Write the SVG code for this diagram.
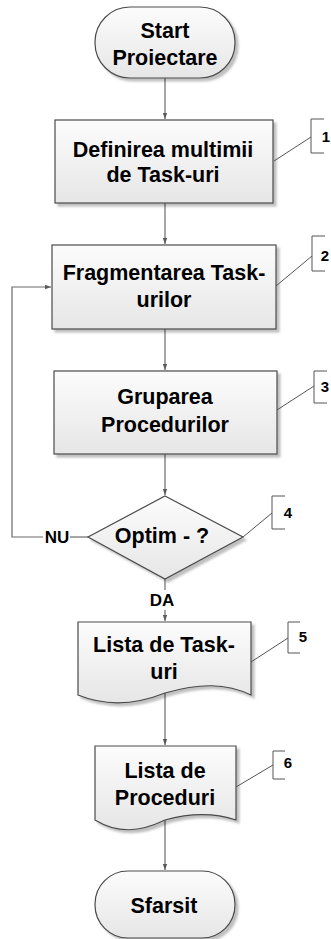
<svg xmlns="http://www.w3.org/2000/svg" width="331" height="939" viewBox="0 0 331 939">
  <defs>
    <linearGradient id="fillGrad" x1="0" y1="0" x2="0" y2="1">
      <stop offset="0" stop-color="#fcfcfc"/>
      <stop offset="1" stop-color="#e6e6e6"/>
    </linearGradient>
    <filter id="shadow" x="-10%" y="-10%" width="130%" height="130%">
      <feGaussianBlur in="SourceAlpha" stdDeviation="1.2"/>
      <feOffset dx="3" dy="3" result="off"/>
      <feFlood flood-color="#000" flood-opacity="0.25"/>
      <feComposite in2="off" operator="in"/>
      <feMerge>
        <feMergeNode/>
        <feMergeNode in="SourceGraphic"/>
      </feMerge>
    </filter>
    <marker id="arrow" viewBox="0 0 6 6" refX="6" refY="3" markerWidth="6" markerHeight="6" markerUnits="userSpaceOnUse" orient="auto">
      <path d="M0,0.8 L6,3 L0,5.2 Z" fill="#5a5a5a"/>
    </marker>
  </defs>
  <style>
    .shape { fill: url(#fillGrad); stroke: #4a4a4a; stroke-width: 1.2; filter: url(#shadow); }
    .label { font-family: "Liberation Sans", Arial, sans-serif; font-weight: bold; font-size: 21.5px; fill: #000; text-anchor: middle; }
    .small { font-family: "Liberation Sans", Arial, sans-serif; font-weight: bold; font-size: 17px; fill: #000; text-anchor: middle; }
    .num { font-family: "Liberation Sans", Arial, sans-serif; font-weight: bold; font-size: 15px; fill: #000; text-anchor: middle; }
    .conn { fill: none; stroke: #6a6a6a; stroke-width: 1.2; }
    .call { fill: none; stroke: #555; stroke-width: 1; }
  </style>

  <!-- connectors -->
  <g id="connectors">
    <path class="conn" d="M165,78 V119" marker-end="url(#arrow)"/>
    <path class="conn" d="M165,203 V244" marker-end="url(#arrow)"/>
    <path class="conn" d="M165,329 V370" marker-end="url(#arrow)"/>
    <path class="conn" d="M165,454 V495" marker-end="url(#arrow)"/>
    <path class="conn" d="M88,537 H70"/>
    <path class="conn" d="M43,537 H12 V287 H51" marker-end="url(#arrow)"/>
    <path class="conn" d="M165,579 V590"/>
    <path class="conn" d="M165,610 V621" marker-end="url(#arrow)"/>
    <path class="conn" d="M165,693 V745" marker-end="url(#arrow)"/>
    <path class="conn" d="M165,820 V870" marker-end="url(#arrow)"/>
    <text class="small" x="57" y="543">NU</text>
    <text class="small" x="162" y="606">DA</text>
  </g>

  <!-- start terminal -->
  <g id="start">
    <rect class="shape" x="95" y="7" width="140" height="71" rx="35" ry="35"/>
    <text class="label" x="165" y="38">Start</text>
    <text class="label" x="165" y="65">Proiectare</text>
  </g>

  <!-- process steps -->
  <g id="step1">
    <rect class="shape" x="55" y="120" width="218" height="83"/>
    <text class="label" x="163" y="157">Definirea multimii</text>
    <text class="label" x="163" y="182">de Task-uri</text>
  </g>

  <g id="step2">
    <rect class="shape" x="52" y="245" width="224" height="84"/>
    <text class="label" x="164" y="280">Fragmentarea Task-</text>
    <text class="label" x="164" y="307">urilor</text>
  </g>

  <g id="step3">
    <rect class="shape" x="54" y="371" width="223" height="83"/>
    <text class="label" x="165" y="404">Gruparea</text>
    <text class="label" x="165" y="432">Procedurilor</text>
  </g>

  <!-- decision -->
  <g id="decision">
    <path class="shape" d="M165,496 L243,537 L165,579 L88,537 Z"/>
    <text class="label" x="162" y="543">Optim - ?</text>
  </g>

  <!-- documents -->
  <g id="doc1">
    <path class="shape" d="M78,622 H251 V695 C226,683 200,683 165,693 C135,705 105,706 78,695 Z"/>
    <text class="label" x="164" y="652">Lista de Task-</text>
    <text class="label" x="164" y="679">uri</text>
  </g>

  <g id="doc2">
    <path class="shape" d="M95,746 H236 V820 C212,812 190,813 165,820 C140,832 118,834 95,820 Z"/>
    <text class="label" x="165" y="778">Lista de</text>
    <text class="label" x="165" y="805">Proceduri</text>
  </g>

  <!-- end terminal -->
  <g id="end">
    <rect class="shape" x="95" y="871" width="140" height="67" rx="33" ry="33"/>
    <text class="label" x="164" y="913">Sfarsit</text>
  </g>

  <!-- numbered callouts -->
  <g id="callout1">
    <path class="call" d="M274,161 L311,137"/>
    <path class="call" d="M324,119 H311 V153 H324"/>
    <text class="num" x="326" y="142">1</text>
  </g>
  <g id="callout2">
    <path class="call" d="M276,286 L312,256"/>
    <path class="call" d="M325,236 H312 V271 H325"/>
    <text class="num" x="325" y="261">2</text>
  </g>
  <g id="callout3">
    <path class="call" d="M277,410 L314,386"/>
    <path class="call" d="M327,371 H314 V403 H327"/>
    <text class="num" x="325" y="392">3</text>
  </g>
  <g id="callout4">
    <path class="call" d="M243,537 L272,513"/>
    <path class="call" d="M285,496 H272 V529 H285"/>
    <text class="num" x="288" y="518">4</text>
  </g>
  <g id="callout5">
    <path class="call" d="M251,662 L288,638"/>
    <path class="call" d="M300,622 H288 V653 H300"/>
    <text class="num" x="303" y="642">5</text>
  </g>
  <g id="callout6">
    <path class="call" d="M236,787 L273,765"/>
    <path class="call" d="M285,751 H273 V779 H285"/>
    <text class="num" x="288" y="768">6</text>
  </g>
</svg>
